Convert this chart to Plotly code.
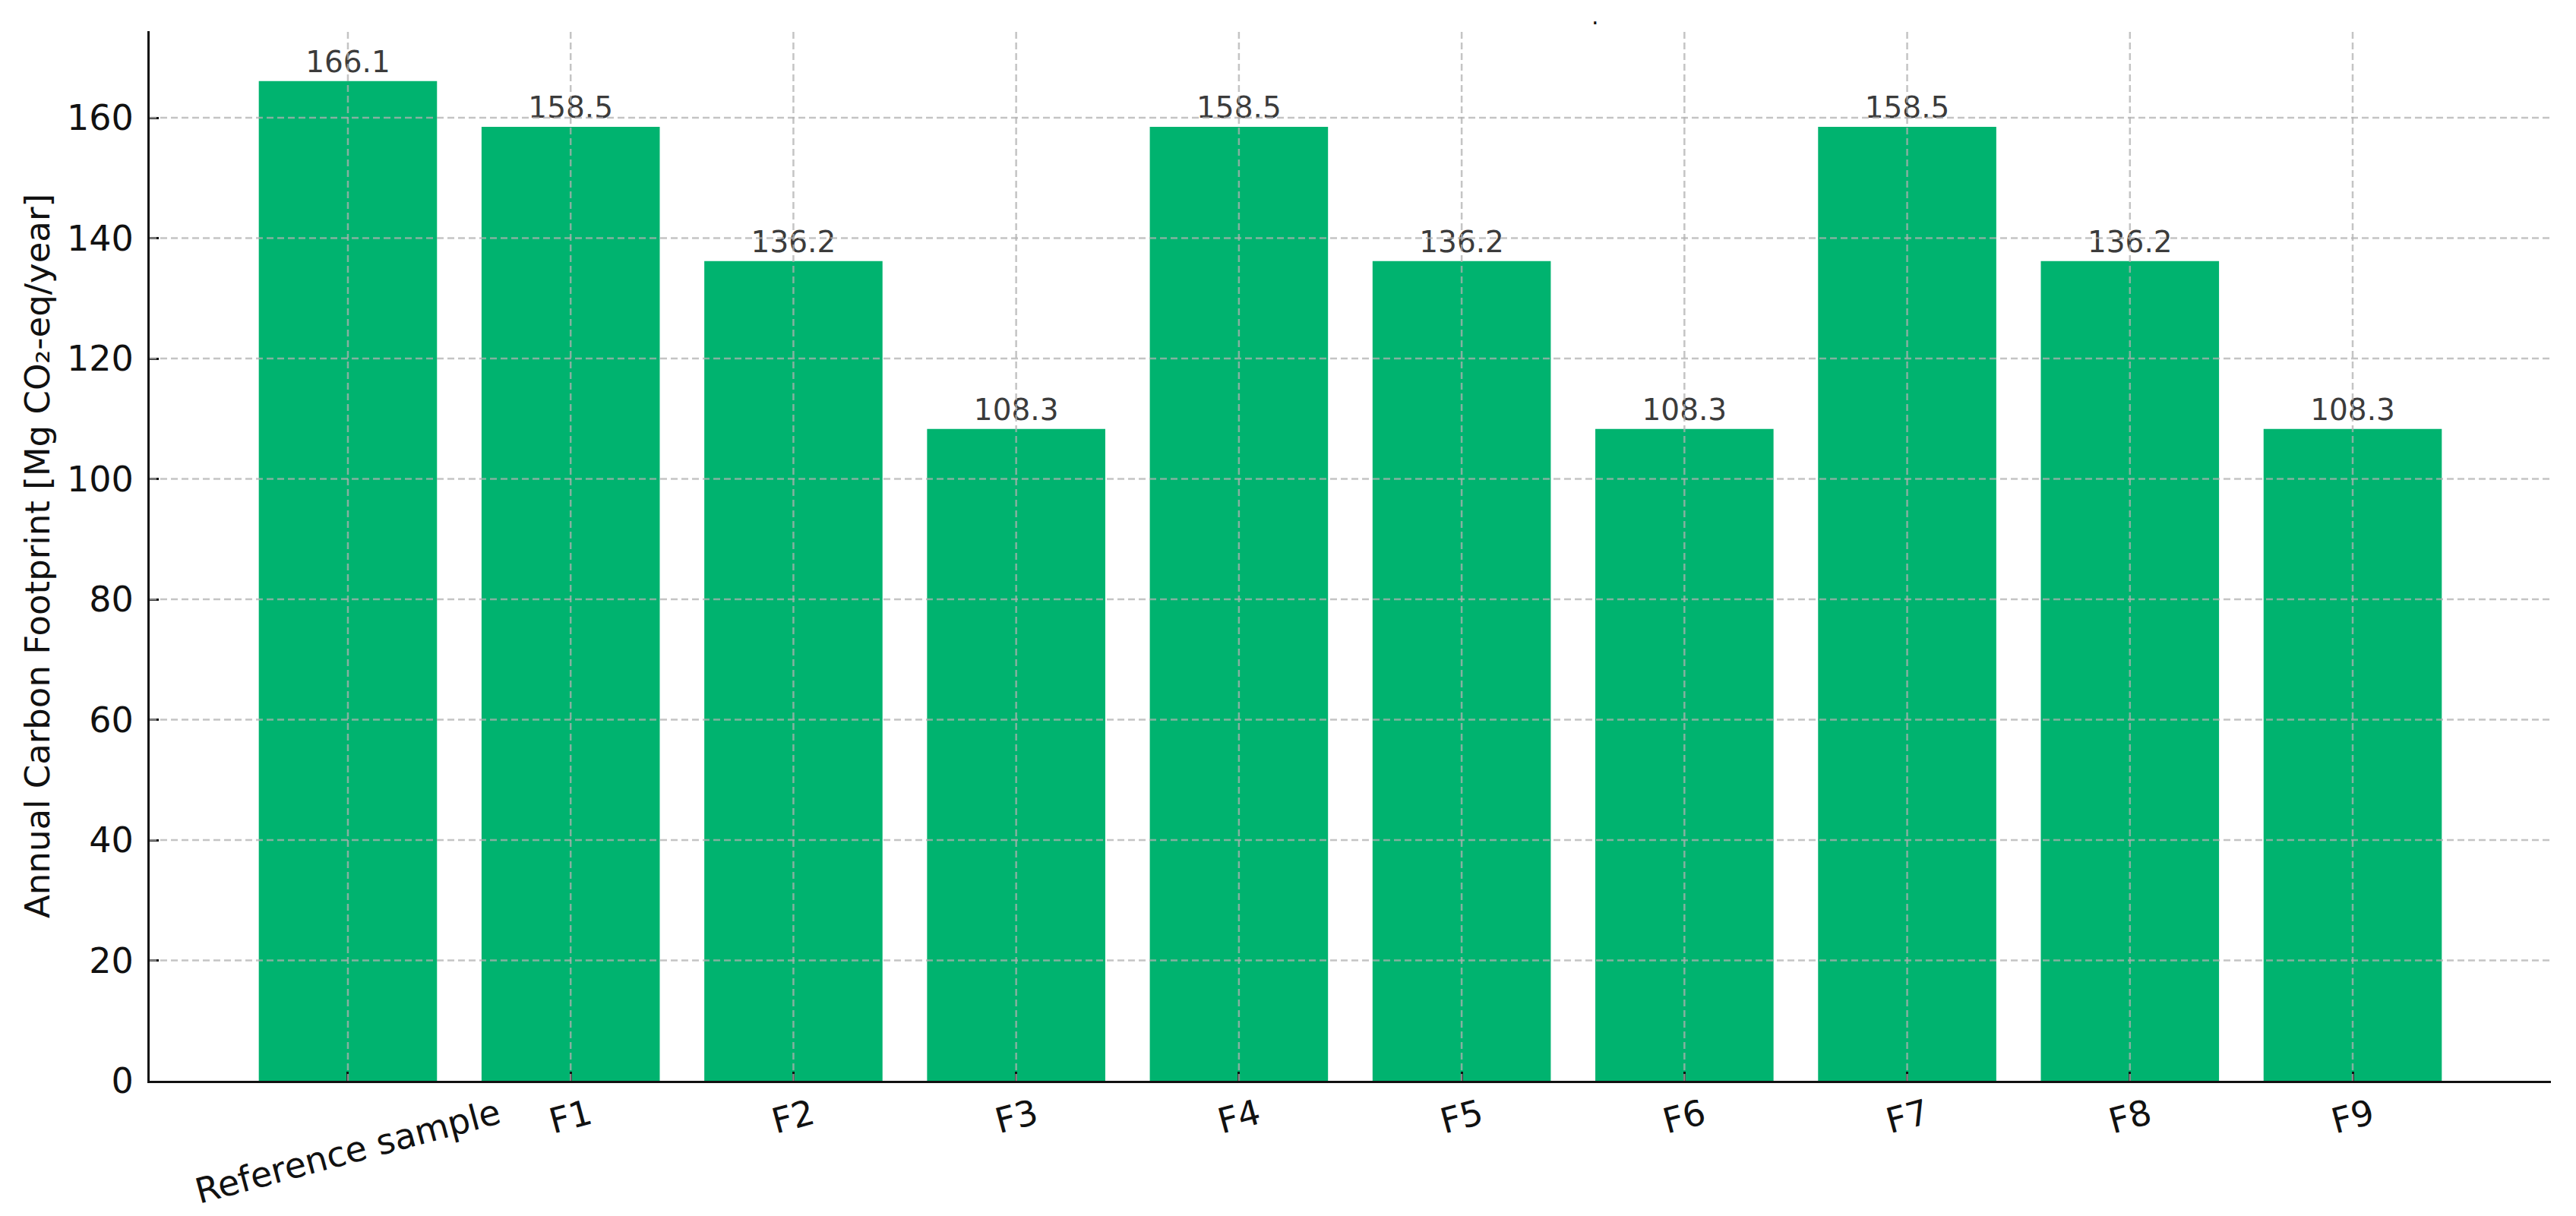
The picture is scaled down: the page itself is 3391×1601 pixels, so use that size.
import plotly.graph_objects as go

# ---- data ----
categories = ["Reference sample", "F1", "F2", "F3", "F4", "F5", "F6", "F7", "F8", "F9"]
footprint = [166.1, 158.5, 136.2, 108.3, 158.5, 136.2, 108.3, 158.5, 136.2, 108.3]
y_ticks = [0, 20, 40, 60, 80, 100, 120, 140, 160]
y_title = "Annual Carbon Footprint [Mg CO₂-eq/year]"

FONT = "DejaVu Sans"
BAR_COLOR = "#00B36F"
GRID = "rgba(176,176,176,0.75)"

x_idx = list(range(len(categories)))

fig = go.Figure()
fig.add_trace(go.Bar(
    x=x_idx,
    y=footprint,
    width=0.8,
    marker=dict(color=BAR_COLOR, line=dict(width=0)),
    text=[f"{v:.1f}" for v in footprint],
    textposition="outside",
    textfont=dict(family=FONT, size=39, color="#3b3b3b"),
    constraintext="none",
    cliponaxis=False,
    showlegend=False,
))

# dashed grid drawn above the bars (as in the original)
for yv in y_ticks[1:]:
    fig.add_shape(type="line", xref="paper", yref="y", x0=0, x1=1, y0=yv, y1=yv,
                  line=dict(color=GRID, width=2.5, dash="9px,5px"), layer="above")
for xv in x_idx:
    fig.add_shape(type="line", xref="x", yref="paper", x0=xv, x1=xv, y0=0, y1=1,
                  line=dict(color=GRID, width=2.5, dash="9px,5px"), layer="above")

# rotated, centred category labels
for xv, name in zip(x_idx, categories):
    fig.add_annotation(x=xv, xref="x", y=-0.008, yref="paper",
                       text=name, textangle=-15, showarrow=False,
                       xanchor="center", yanchor="top",
                       font=dict(family=FONT, size=46, color="#111111"))

# small stray title mark
fig.add_annotation(x=0.602, xref="paper", y=1.0, yref="paper", text=".",
                   showarrow=False, xanchor="center", yanchor="bottom",
                   font=dict(family=FONT, size=30, color="#111111"))

fig.update_layout(
    width=3391, height=1601,
    margin=dict(l=197, r=33, t=41, b=178),
    paper_bgcolor="white", plot_bgcolor="white",
    font=dict(family=FONT, color="#111111"),
    bargap=0.2,
)
fig.update_xaxes(
    range=[-0.89, 9.89],
    tickmode="array", tickvals=x_idx, showticklabels=False,
    ticks="inside", ticklen=12, tickwidth=3, tickcolor="#111111",
    showline=True, linecolor="#111111", linewidth=3,
    showgrid=False, zeroline=False, mirror=False,
)
fig.update_yaxes(
    range=[0, 174.4],
    tickmode="array", tickvals=y_ticks,
    ticks="inside", ticklen=12, tickwidth=3, tickcolor="#111111",
    tickfont=dict(family=FONT, size=46, color="#111111"),
    ticklabelstandoff=9,
    showline=True, linecolor="#111111", linewidth=3,
    showgrid=False, zeroline=False, mirror=False,
    title=dict(text=y_title, font=dict(family=FONT, size=45, color="#111111"), standoff=9),
)

fig.write_html("out.html", config={"displayModeBar": False},
               post_script="document.body.style.margin='0px';")
